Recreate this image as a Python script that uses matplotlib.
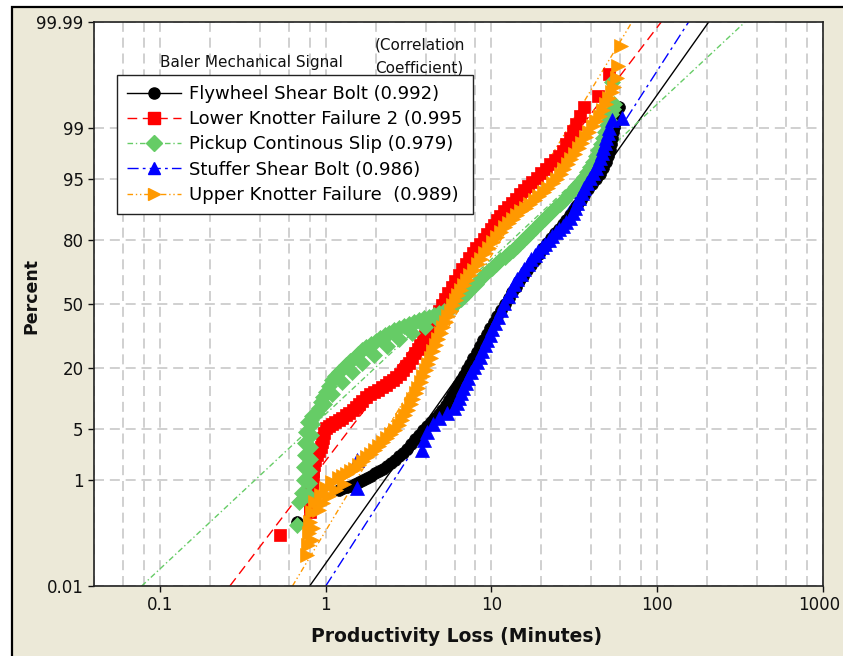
import matplotlib
matplotlib.use("Agg")
import matplotlib.pyplot as plt
import numpy as np
from matplotlib.lines import Line2D
from matplotlib.patches import Rectangle
from matplotlib.ticker import FixedLocator, NullLocator, LogLocator, NullFormatter
from matplotlib.transforms import ScaledTranslation
from statistics import NormalDist

# (productivity loss in minutes, cumulative percent) for each signal
flywheel = [
    (0.667, 0.202), (1.199, 0.708), (1.268, 0.749), (1.341, 0.791), (1.418, 0.833),
    (1.499, 0.88), (1.585, 0.946), (1.676, 1.015), (1.773, 1.087), (1.875, 1.17),
    (1.982, 1.27), (2.096, 1.38), (2.217, 1.50), (2.344, 1.63), (2.479, 1.80),
    (2.621, 1.98), (2.772, 2.22), (2.931, 2.47), (3.099, 2.83), (3.277, 3.24),
    (3.465, 3.70), (3.664, 4.20), (3.875, 4.77), (4.098, 5.38), (4.333, 5.99),
    (4.581, 6.64), (4.811, 7.34), (5.053, 8.11), (5.306, 9.14), (5.571, 10.28),
    (5.809, 11.51), (6.057, 12.84), (6.316, 14.27), (6.586, 15.82), (6.868, 17.62),
    (7.161, 19.57), (7.468, 21.63), (7.788, 23.82), (8.122, 26.34), (8.471, 28.98),
    (8.894, 31.75), (9.339, 34.61), (9.808, 37.58), (10.30, 40.63), (10.81, 43.71),
    (11.35, 46.85), (12.00, 50.0), (12.69, 53.15), (13.33, 56.03), (14.00, 58.86),
    (14.70, 61.67), (15.44, 64.40), (16.32, 67.07), (17.26, 69.64), (18.25, 72.13),
    (19.30, 74.51), (20.41, 76.79), (21.59, 78.94), (22.82, 80.79), (24.13, 82.54),
    (25.52, 84.03), (26.98, 85.43), (28.34, 86.74), (29.76, 87.98), (31.25, 89.25),
    (32.82, 90.42), (34.46, 91.49), (36.18, 92.47), (38.26, 93.45), (40.46, 94.33),
    (42.78, 95.03), (45.24, 95.68), (47.17, 96.35), (49.19, 96.94), (50.59, 97.45),
    (52.03, 97.89), (52.76, 98.26), (53.50, 98.57), (54.25, 98.82), (55.01, 99.02),
    (56.18, 99.20), (57.38, 99.34), (58.98, 99.53),
]

lower_knotter = [
    (0.533, 0.116), (0.800, 0.304), (0.805, 0.386), (0.811, 0.487), (0.817, 0.611),
    (0.822, 0.763), (0.828, 0.946), (0.834, 1.17), (0.840, 1.405), (0.846, 1.69),
    (0.864, 1.98), (0.882, 2.32), (0.907, 2.63), (0.933, 2.97), (0.946, 3.39),
    (0.959, 3.86), (0.979, 4.45), (1.0, 5.10), (1.043, 5.38), (1.087, 5.68),
    (1.142, 5.99), (1.199, 6.30), (1.259, 6.72), (1.322, 7.16), (1.388, 7.62),
    (1.458, 8.11), (1.521, 8.72), (1.586, 9.36), (1.665, 10.15), (1.748, 11.01),
    (1.849, 11.64), (1.955, 12.30), (2.067, 12.97), (2.186, 13.68), (2.295, 14.41),
    (2.410, 15.18), (2.531, 15.96), (2.658, 16.78), (2.791, 17.96), (2.931, 19.21),
    (3.056, 20.50), (3.186, 21.83), (3.323, 23.82), (3.465, 25.91), (3.588, 27.66),
    (3.716, 29.43), (3.848, 31.52), (3.984, 33.65), (4.154, 35.83), (4.332, 38.09),
    (4.487, 40.63), (4.647, 43.20), (4.846, 46.32), (5.053, 49.47), (5.268, 52.63),
    (5.493, 55.76), (5.768, 58.86), (6.057, 61.91), (6.360, 64.88), (6.679, 67.79),
    (7.013, 70.33), (7.364, 72.80), (7.733, 74.95), (8.121, 76.98), (8.528, 78.75),
    (8.954, 80.43), (9.403, 82.20), (9.874, 83.87), (10.30, 85.27), (10.74, 86.61),
    (11.28, 87.84), (11.84, 88.99), (12.52, 89.96), (13.24, 90.86), (14.00, 91.79),
    (14.81, 92.66), (15.66, 93.36), (16.55, 94.01), (17.63, 94.62), (18.77, 95.17),
    (19.99, 95.74), (21.29, 96.25), (22.67, 96.71), (24.13, 97.12), (25.52, 97.49),
    (26.98, 97.82), (28.34, 98.23), (29.76, 98.57), (31.03, 98.87), (32.36, 99.12),
    (34.22, 99.35), (36.18, 99.53), (43.99, 99.70), (51.29, 99.88),
]

pickup_slip = [
    (0.667, 0.178), (0.686, 0.451), (0.778, 0.589), (0.715, 0.635), (0.789, 0.912),
    (0.736, 1.015), (0.789, 1.38), (0.736, 1.58), (0.800, 2.05), (0.746, 2.32),
    (0.800, 2.97), (0.746, 3.34), (0.811, 4.20), (0.756, 4.57), (0.822, 5.68),
    (0.778, 5.99), (0.822, 6.98), (0.882, 7.53), (0.907, 8.61), (0.972, 9.36),
    (0.933, 9.82), (0.966, 11.01), (1.087, 11.76), (1.0, 12.30), (1.043, 13.98),
    (1.250, 15.18), (1.087, 15.82), (1.142, 17.13), (1.199, 18.49), (1.438, 18.49),
    (1.259, 19.74), (1.322, 21.07), (1.653, 21.83), (1.398, 22.42), (1.478, 23.82),
    (1.955, 25.06), (1.563, 25.49), (1.653, 27.20), (1.761, 28.54), (2.344, 28.98),
    (1.875, 29.90), (1.997, 31.28), (2.772, 32.22), (2.126, 32.70), (2.264, 33.90),
    (2.410, 35.11), (3.323, 35.11), (2.585, 36.35), (2.772, 37.58), (3.984, 38.09),
    (2.972, 38.59), (3.186, 39.59), (3.417, 40.63), (4.845, 41.13), (3.664, 41.64),
    (3.929, 42.43), (4.213, 43.20), (4.518, 44.24), (4.845, 45.28), (5.195, 46.32),
    (5.571, 47.37), (5.890, 49.21), (6.228, 51.05), (6.540, 52.63), (6.868, 54.20),
    (7.212, 56.28), (7.574, 58.36), (8.010, 60.64), (8.471, 62.93), (8.957, 64.88),
    (9.470, 66.82), (10.01, 68.48), (10.59, 70.10), (11.28, 71.70), (12.01, 73.24),
    (12.70, 74.73), (13.43, 76.18), (14.30, 77.97), (15.22, 79.70), (16.09, 81.15),
    (17.02, 82.54), (18.25, 84.18), (19.57, 85.73), (20.69, 86.89), (21.88, 87.98),
    (23.14, 88.99), (24.47, 89.96), (25.88, 90.74), (27.36, 91.49), (28.93, 92.38),
    (30.60, 93.19), (32.36, 93.94), (34.22, 94.62), (35.93, 95.30), (37.72, 95.92),
    (39.34, 96.46), (41.03, 96.94), (42.48, 97.45), (43.99, 97.89), (45.56, 98.26),
    (47.18, 98.57), (48.52, 98.85), (49.89, 99.09), (51.30, 99.25), (52.75, 99.39),
    (53.87, 99.49), (55.01, 99.58), (53.50, 99.83),
]

stuffer_bolt = [
    (1.542, 0.763), (1.542, 1.98), (3.821, 2.71), (3.929, 3.65), (4.098, 4.57),
    (4.455, 5.68), (4.845, 6.64), (5.416, 7.53), (5.973, 8.52), (6.186, 9.58),
    (6.406, 10.75), (6.587, 12.02), (6.773, 13.39), (7.013, 14.87), (7.262, 16.46),
    (7.573, 18.33), (7.898, 20.30), (8.179, 22.22), (8.471, 24.23), (8.771, 26.77),
    (9.081, 29.43), (9.404, 31.75), (9.739, 34.13), (10.08, 37.07), (10.44, 40.11),
    (10.89, 43.45), (11.35, 46.85), (11.92, 50.53), (12.52, 54.20), (13.05, 57.34),
    (13.61, 60.41), (14.29, 62.93), (15.01, 65.39), (15.76, 67.78), (16.55, 70.10),
    (17.38, 72.14), (18.25, 74.09), (19.17, 75.77), (20.13, 77.39), (21.13, 78.75),
    (22.19, 80.07), (23.30, 81.51), (24.47, 82.87), (25.69, 83.87), (26.98, 84.82),
    (28.34, 86.02), (29.76, 87.16), (30.82, 88.49), (31.91, 89.72), (32.81, 90.86),
    (33.74, 91.89), (34.94, 92.84), (36.18, 93.70), (37.73, 94.47), (39.34, 95.17),
    (41.03, 95.80), (42.79, 96.35), (44.00, 96.85), (45.24, 97.29), (46.20, 97.68),
    (47.18, 98.02), (48.17, 98.31), (49.19, 98.57), (50.23, 98.79), (51.29, 98.99),
    (53.50, 99.24), (61.52, 99.29),
]

upper_knotter = [
    (0.767, 0.047), (0.778, 0.074), (0.822, 0.093), (0.789, 0.126), (0.834, 0.157),
    (0.800, 0.202), (0.822, 0.304), (0.907, 0.329), (0.959, 0.434), (0.858, 0.451),
    (1.043, 0.567), (0.933, 0.589), (1.150, 0.708), (1.0, 0.763), (1.286, 0.88),
    (1.087, 0.946), (1.199, 1.087), (1.268, 1.17), (1.341, 1.25), (1.418, 1.36),
    (1.499, 1.48), (1.585, 1.69), (1.676, 1.92), (1.773, 2.15), (1.875, 2.40),
    (1.982, 2.71), (2.096, 3.05), (2.217, 3.44), (2.344, 3.86), (2.479, 4.33),
    (2.621, 4.83), (2.752, 5.53), (2.890, 6.30), (3.014, 7.16), (3.143, 8.11),
    (3.255, 9.26), (3.370, 10.51), (3.489, 11.90), (3.613, 13.39), (3.742, 15.18),
    (3.875, 17.13), (4.013, 19.21), (4.155, 21.44), (4.302, 24.02), (4.455, 26.77),
    (4.613, 29.44), (4.777, 32.21), (4.947, 35.11), (5.123, 38.09), (5.305, 40.87),
    (5.493, 43.71), (5.688, 46.58), (5.890, 49.47), (6.099, 52.10), (6.316, 54.72),
    (6.586, 57.34), (6.868, 59.89), (7.161, 62.42), (7.467, 64.88), (7.842, 67.54),
    (8.236, 70.10), (8.648, 72.57), (9.081, 74.95), (9.605, 77.19), (10.16, 79.33),
    (10.74, 81.15), (11.35, 82.87), (12.00, 84.35), (12.69, 85.73), (13.42, 86.89),
    (14.20, 87.98), (15.12, 88.88), (16.10, 89.72), (17.14, 90.64), (18.25, 91.49),
    (19.44, 92.28), (20.70, 93.02), (22.05, 93.77), (23.48, 94.47), (24.82, 95.10),
    (26.24, 95.68), (27.55, 96.25), (28.93, 96.76), (30.38, 97.21), (31.91, 97.60),
    (33.51, 97.99), (35.18, 98.31), (36.95, 98.60), (38.80, 98.83), (40.75, 99.04),
    (42.79, 99.21), (44.93, 99.35), (47.18, 99.47), (49.19, 99.58), (51.29, 99.67),
    (53.12, 99.74), (55.01, 99.79), (57.38, 99.856), (58.19, 99.915), (60.67, 99.967),
]

# Lognormal fit lines: minutes at 0.01 % and 99.99 %
fit_pct = [0.01, 99.99]
flywheel_fit = [0.80, 204.4]
lower_fit = [0.264, 105.7]
pickup_fit = [0.0776, 338.8]
stuffer_fit = [1.0, 154.6]
upper_fit = [0.63, 70.4]

labels = ["Flywheel Shear Bolt (0.992)",
          "Lower Knotter Failure 2 (0.995",
          "Pickup Continous Slip (0.979)",
          "Stuffer Shear Bolt (0.986)",
          "Upper Knotter Failure  (0.989)"]

y_ticks = [0.01, 1, 5, 20, 50, 80, 95, 99, 99.99]
y_tick_labels = ["0.01", "1", "5", "20", "50", "80", "95", "99", "99.99"]
x_ticks = [0.1, 1, 10, 100, 1000]
x_tick_labels = ["0.1", "1", "10", "100", "1000"]

# normal probability scale for the percent axis
_nd = NormalDist()
_ppf = np.vectorize(_nd.inv_cdf, otypes=[float])
_cdf = np.vectorize(_nd.cdf, otypes=[float])


def prob_forward(p):
    p = np.clip(np.asarray(p, dtype=float), 1e-7, 100 - 1e-7)
    return _ppf(p / 100.0)


def prob_inverse(z):
    return _cdf(np.asarray(z, dtype=float)) * 100.0


def main():
    W, H = 843, 656
    fig = plt.figure(figsize=(W / 100, H / 100), dpi=100)
    fig.patch.set_facecolor("white")

    # beige window panel with black border
    panel = Rectangle((12 / W, -0.1), 1.2, 1.1 - 7 / H, transform=fig.transFigure,
                      facecolor="#ece9d8", edgecolor="black", linewidth=1.6, zorder=-5)
    fig.add_artist(panel)

    ax = fig.add_axes([94 / W, 1 - 586 / H, (823 - 94) / W, (586 - 22) / H])
    ax.set_facecolor("white")
    ax.set_xscale("log")
    ax.set_yscale("function", functions=(prob_forward, prob_inverse))
    ax.set_xlim(0.04, 1000)
    ax.set_ylim(0.01, 99.99)

    series = [
        (flywheel, flywheel_fit, "black", "o", 8.5, "-"),
        (lower_knotter, lower_fit, "#ff0000", "s", 8.5, (0, (7, 4))),
        (pickup_slip, pickup_fit, "#66cc66", "D", 8.0, (0, (4, 2, 1, 2))),
        (stuffer_bolt, stuffer_fit, "#0000ff", "^", 9.5, (0, (8, 3, 2, 3))),
        (upper_knotter, upper_fit, "#ff9900", ">", 9.5, (0, (4, 2, 1, 2, 1, 2))),
    ]

    handles = []
    for (pts, fit, color, marker, ms, ls), label in zip(series, labels):
        ax.plot(fit, fit_pct, color=color, linestyle=ls, linewidth=1.0, zorder=2)
        handles.append(Line2D([], [], color=color, linestyle=ls, linewidth=1.0,
                              marker=marker, markersize=8, markerfacecolor=color,
                              markeredgecolor=color, label=label))
    for pts, fit, color, marker, ms, ls in series:
        xs, ps = zip(*pts)
        ax.plot(xs, ps, linestyle="none", marker=marker, markersize=ms,
                markerfacecolor=color, markeredgecolor=color, markeredgewidth=0.5,
                zorder=3)

    # ticks and grid
    ax.yaxis.set_major_locator(FixedLocator(y_ticks))
    ax.yaxis.set_minor_locator(NullLocator())
    ax.set_yticklabels(y_tick_labels)
    ax.xaxis.set_major_locator(FixedLocator(x_ticks))
    ax.xaxis.set_minor_locator(LogLocator(base=10, subs=[2, 4, 6, 8], numticks=20))
    ax.xaxis.set_minor_formatter(NullFormatter())
    ax.set_xticklabels(x_tick_labels)
    ax.tick_params(axis="both", which="major", direction="out", length=4.5,
                   width=1.0, labelsize=12, colors="#111111", pad=3)
    ax.tick_params(axis="x", which="minor", length=0)
    # keep the last x label inside the window
    last = ax.get_xticklabels()[-1]
    last.set_transform(last.get_transform()
                       + ScaledTranslation(-3 / 72, 0, fig.dpi_scale_trans))

    grid_kw = dict(color="#c8c8c8", linestyle=(0, (6, 3.5)), linewidth=1.2)
    ax.grid(True, which="major", axis="y", **grid_kw)
    ax.grid(True, which="both", axis="x", **grid_kw)
    ax.set_axisbelow(True)
    for sp in ax.spines.values():
        sp.set_color("#222222")
        sp.set_linewidth(1.2)

    leg = ax.legend(handles=handles, loc="upper left",
                    bbox_to_anchor=((117 - 94) / 729, (586 - 75) / 564),
                    borderaxespad=0, fontsize=13, frameon=True, fancybox=False,
                    framealpha=1, edgecolor="#222222", numpoints=1,
                    handlelength=3.0, handletextpad=0.45, labelspacing=0.4,
                    borderpad=0.55)
    leg.get_frame().set_linewidth(1.0)

    ax.text((160 - 94) / 729, (586 - 62) / 564, "Baler Mechanical Signal",
            transform=ax.transAxes, fontsize=11, va="center", ha="left",
            color="#111111")
    ax.text((375 - 94) / 729, (586 - 45) / 564, "(Correlation",
            transform=ax.transAxes, fontsize=11, va="center", ha="left",
            color="#111111")
    ax.text((375 - 94) / 729, (586 - 68) / 564, "Coefficient)",
            transform=ax.transAxes, fontsize=11, va="center", ha="left",
            color="#111111")

    fig.text(457 / W, 1 - 637 / H, "Productivity Loss (Minutes)", fontsize=13.5,
             fontweight="bold", ha="center", va="center", color="#111111")
    fig.text(31 / W, 1 - 296 / H, "Percent", fontsize=12.5, fontweight="bold",
             rotation=90, ha="center", va="center", color="#111111")

    fig.savefig("out.png", dpi=100)


if __name__ == "__main__":
    main()
